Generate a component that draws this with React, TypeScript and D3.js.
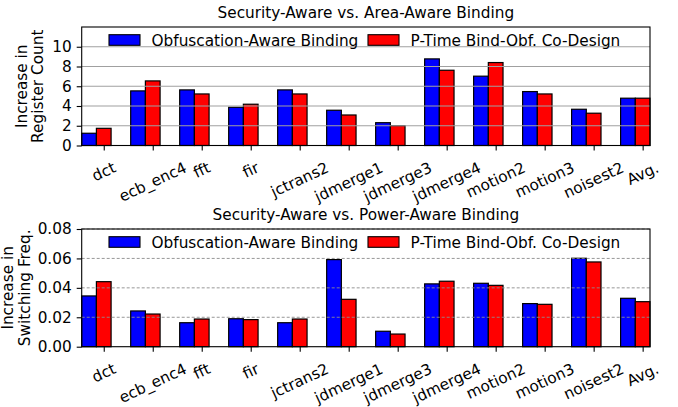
import * as d3 from "d3";
import { useRef, useEffect } from "react";

const benchmarks = ["dct", "ecb_enc4", "fft", "fir", "jctrans2", "jdmerge1", "jdmerge3", "jdmerge4", "motion2", "motion3", "noisest2", "Avg."];
const regObf = [1.24, 5.53, 5.63, 3.87, 5.63, 3.57, 2.31, 8.77, 7.02, 5.46, 3.67, 4.79];
const regCo = [1.74, 6.54, 5.22, 4.18, 5.22, 3.09, 2.01, 7.62, 8.4, 5.22, 3.27, 4.79];
const swObf = [0.0345, 0.0243, 0.0163, 0.019, 0.0163, 0.0592, 0.0105, 0.0427, 0.0431, 0.0293, 0.0601, 0.0329];
const swCo = [0.0442, 0.0222, 0.0188, 0.0184, 0.0188, 0.0322, 0.0086, 0.0445, 0.0417, 0.0288, 0.0576, 0.0306];
const regTicks = [0, 2, 4, 6, 8, 10];
const swTicks = [0, 0.02, 0.04, 0.06, 0.08];
const seriesNames = ["Obfuscation-Aware Binding", "P-Time Bind-Obf. Co-Design"];
const colors = ["#0000ff", "#ff0000"];

export default function App() {
    const width = 678;
    const height = 407;
    const left = 81.7;
    const right = 650;
    const font = "DejaVu Sans";
    const fs = 15.3;
    const ref = useRef<SVGSVGElement>(null);

    useEffect(() => {
        const svg = d3.select(ref.current);
        svg.selectAll("*").remove();
        const w = 0.3;
        const x = d3.scaleLinear([-1.5 * w, benchmarks.length - 1 + 0.5 * w], [left, right]);
        const bw = x(w) - x(0);

        const panels = [
            { top: 27, bottom: 145.5, max: 12, ticks: regTicks, fmt: d3.format("d"), a: regObf, b: regCo,
              title: "Security-Aware vs. Area-Aware Binding", ylab: ["Increase in", "Register Count"], ylx: [26.5, 43], dash: null },
            { top: 229, bottom: 346.7, max: 0.08, ticks: swTicks, fmt: d3.format(".2f"), a: swObf, b: swCo,
              title: "Security-Aware vs. Power-Aware Binding", ylab: ["Increase in", "Switching Freq."], ylx: [13, 29.5], dash: "3,2" },
        ];

        panels.forEach((p) => {
            const y = d3.scaleLinear([0, p.max], [p.bottom, p.top]);
            const g = svg.append("g").attr("font-family", font).attr("font-size", fs);

            // bars
            [p.a, p.b].forEach((vals, s) => {
                g.append("g").selectAll("rect").data(vals).join("rect")
                    .attr("x", (_, i) => x(i - (1.5 - s) * w))
                    .attr("y", (d) => y(d))
                    .attr("width", bw)
                    .attr("height", (d) => y(0) - y(d))
                    .attr("fill", colors[s])
                    .attr("stroke", "black")
                    .attr("stroke-width", 1.2);
            });

            // grid on top of bars
            g.append("g").selectAll("line").data(p.ticks.filter((t) => t > 0)).join("line")
                .attr("x1", left).attr("x2", right)
                .attr("y1", (d) => y(d)).attr("y2", (d) => y(d))
                .attr("stroke", p.dash ? "#8c8c8c" : "#a0a0a0")
                .attr("stroke-width", p.dash ? 0.9 : 1.2)
                .attr("stroke-dasharray", p.dash);

            // frame
            g.append("rect").attr("x", left).attr("y", p.top).attr("width", right - left).attr("height", p.bottom - p.top)
                .attr("fill", "none").attr("stroke", "black").attr("stroke-width", 1.1);

            // y axis
            const yAxis = g.append("g").attr("transform", `translate(${left},0)`)
                .call(d3.axisLeft(y).tickValues(p.ticks).tickFormat((d) => p.fmt(d as number)).tickSize(5).tickPadding(5));
            yAxis.select(".domain").remove();
            yAxis.selectAll("text").attr("font-size", fs).attr("font-family", font).attr("fill", "black");
            yAxis.selectAll("line").attr("stroke-width", 1.1);

            // x axis ticks
            const xAxis = g.append("g").attr("transform", `translate(0,${p.bottom})`)
                .call(d3.axisBottom(x).tickValues(d3.range(benchmarks.length)).tickFormat(() => "").tickSize(5));
            xAxis.select(".domain").remove();
            xAxis.selectAll("line").attr("stroke-width", 1.1);

            // rotated tick labels
            const ang = 25;
            const rad = (ang * Math.PI) / 180;
            const labTop = p.bottom + 13;
            const lab = g.append("g").selectAll("text").data(benchmarks).join("text")
                .attr("text-anchor", "middle")
                .attr("dy", "0.35em")
                .text((d) => d);
            lab.attr("transform", function (_, i) {
                const tw = (this as SVGTextElement).getComputedTextLength();
                const th = fs * 1.15;
                const H = tw * Math.sin(rad) + th * Math.cos(rad);
                return `translate(${x(i)},${labTop + H / 2}) rotate(${-ang})`;
            });

            // title
            g.append("text").attr("x", (left + right) / 2).attr("y", p.top - 9.5)
                .attr("text-anchor", "middle").text(p.title);

            // y label
            const cy = (p.top + p.bottom) / 2;
            p.ylab.forEach((t, k) => {
                g.append("text").attr("transform", `translate(${p.ylx[k]},${cy}) rotate(-90)`)
                    .attr("text-anchor", "middle").text(t);
            });

            // legend
            const ly = p.top + 7.7;
            const lx = [109, 368];
            seriesNames.forEach((n, s) => {
                g.append("rect").attr("x", lx[s]).attr("y", ly).attr("width", 31).attr("height", 10.6)
                    .attr("fill", colors[s]).attr("stroke", "black").attr("stroke-width", 1.1);
                g.append("text").attr("x", lx[s] + 42.5).attr("y", ly + 11.2).text(n);
            });
        });
    }, []);

    return (
        <div style={{ position: "absolute", left: 0, top: 0 }}>
            <svg ref={ref} width={width} height={height} style={{ display: "block", background: "white" }} />
        </div>
    );
}
